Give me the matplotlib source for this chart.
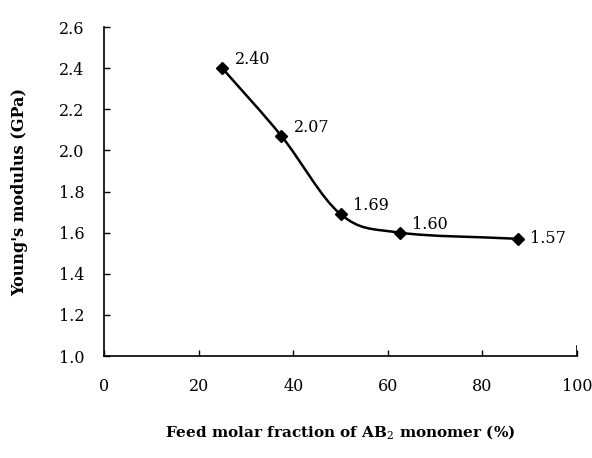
import numpy as np
import matplotlib
matplotlib.use("Agg")
import matplotlib.pyplot as plt
from matplotlib.path import Path
from matplotlib.patches import PathPatch

# data
feed_fraction = [25.0, 37.5, 50.0, 62.5, 87.5]
modulus = [2.40, 2.07, 1.69, 1.60, 1.57]
point_labels = ["2.40", "2.07", "1.69", "1.60", "1.57"]
x_ticks = [0, 20, 40, 60, 80, 100]
y_ticks = [1.0, 1.2, 1.4, 1.6, 1.8, 2.0, 2.2, 2.4, 2.6]

plt.rcParams["font.family"] = "DejaVu Serif"
plt.rcParams["mathtext.fontset"] = "dejavuserif"


def smooth_path(x, y):
    # Catmull-Rom through the points, turned into cubic bezier segments
    x = np.asarray(x)
    y = np.asarray(y)
    px = np.concatenate([[2 * x[0] - x[1]], x, [2 * x[-1] - x[-2]]])
    py = np.concatenate([[2 * y[0] - y[1]], y, [2 * y[-1] - y[-2]]])
    verts = [(x[0], y[0])]
    codes = [Path.MOVETO]
    for i in range(1, len(px) - 2):
        c1 = (px[i] + (px[i + 1] - px[i - 1]) / 6, py[i] + (py[i + 1] - py[i - 1]) / 6)
        c2 = (px[i + 1] - (px[i + 2] - px[i]) / 6, py[i + 1] - (py[i + 2] - py[i]) / 6)
        verts += [c1, c2, (px[i + 1], py[i + 1])]
        codes += [Path.CURVE4] * 3
    return Path(verts, codes)


fig = plt.figure(figsize=(5.92, 4.58), dpi=100)
ax = fig.add_axes([0.1757, 0.2227, 0.799, 0.7183])

ax.add_patch(PathPatch(smooth_path(feed_fraction, modulus), fill=False,
                       lw=1.8, color="black"))
ax.plot(feed_fraction, modulus, linestyle="none", marker="D", markersize=6.5,
        color="black")
for xv, yv, lab in zip(feed_fraction, modulus, point_labels):
    ax.annotate(lab, (xv, yv), xytext=(9, 0), textcoords="offset points",
                fontsize=11.5, va="bottom" if lab != "1.57" else "center",
                ha="left")

ax.set_xlim(0, 100)
ax.set_ylim(1.0, 2.6)
ax.set_xticks(x_ticks)
ax.set_yticks(y_ticks)
ax.set_yticklabels([f"{v:.1f}" for v in y_ticks])
ax.tick_params(direction="in", length=4, width=1, labelsize=11.5)
ax.tick_params(axis="x", pad=16)
ax.tick_params(axis="y", pad=14)
ax.spines["top"].set_visible(False)
ax.spines["right"].set_visible(False)
for s in ("left", "bottom"):
    ax.spines[s].set_linewidth(1.2)
# small upward tick closing the right end of the x axis
ax.axvline(100, ymin=0, ymax=0.03, color="black", lw=1.2)

ax.set_xlabel("Feed molar fraction of AB$_2$ monomer (%)", fontsize=11,
              fontweight="bold", labelpad=20)
ax.set_ylabel("Young's modulus (GPa)", fontsize=11.5, fontweight="bold",
              labelpad=22)

fig.savefig("out.png", dpi=100)
